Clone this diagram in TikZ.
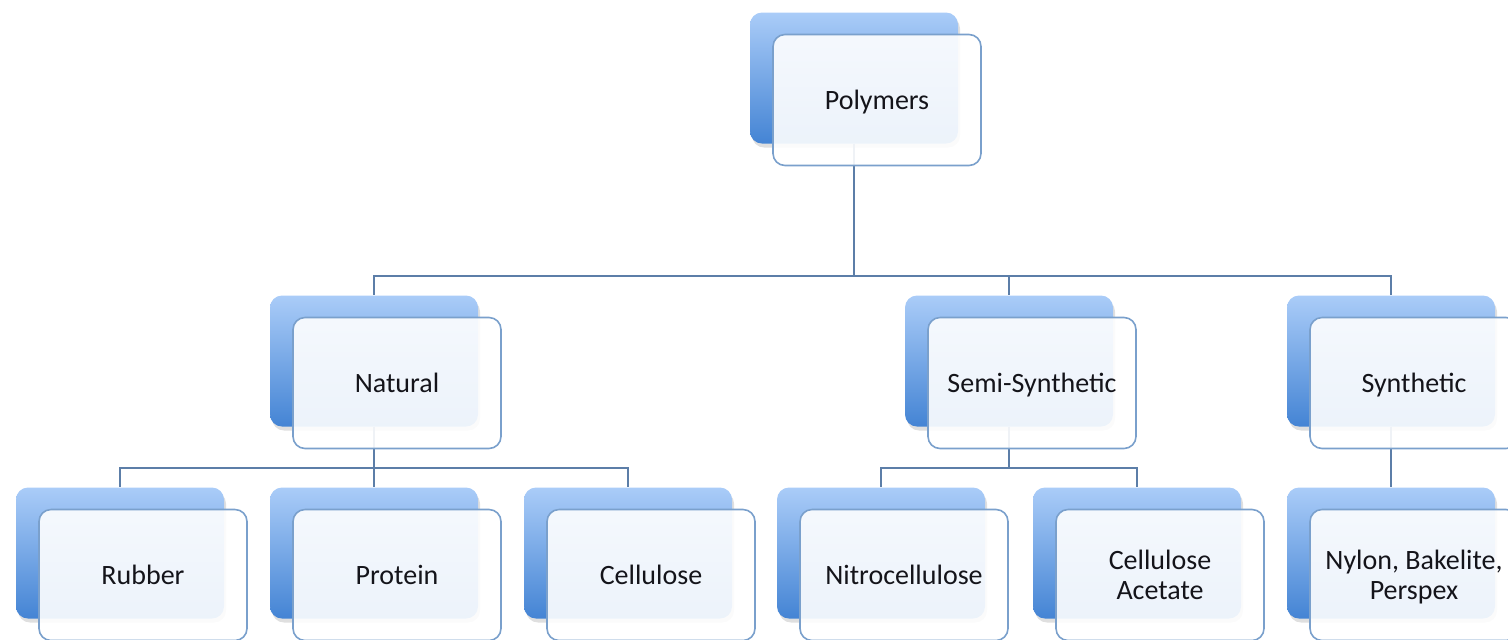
\documentclass[tikz,border=0pt]{standalone}
\usepackage{fontspec}
\setmainfont{Carlito}
\usetikzlibrary{shadows}
\definecolor{backtop}{RGB}{170,204,248}
\definecolor{backbot}{RGB}{68,132,212}
\definecolor{frontline}{RGB}{122,160,204}
\definecolor{linkblue}{RGB}{92,126,168}
\definecolor{labeltext}{RGB}{20,20,26}
\begin{document}
\begin{tikzpicture}[x=0.5pt, y=-0.5pt,
        back/.style={rounded corners=6pt, minimum width=104pt, minimum height=65.5pt,
            top color=backtop, bottom color=backbot, inner sep=0pt,
            drop shadow={shadow xshift=1pt, shadow yshift=-2pt, opacity=0.25}},
        front/.style={rounded corners=6pt, minimum width=104pt, minimum height=65.5pt,
            draw=frontline, line width=0.8pt, fill=white, fill opacity=0.9, text opacity=1,
            text=labeltext, align=center, inner sep=2pt, text depth=0pt,
            font=\fontsize{14}{15}\selectfont},
        link/.style={draw=linkblue, line width=1pt}
]
    \useasboundingbox (0,0) rectangle (1508,639);
    \node[back] (polyB) at (854,78) {};
    \node[back] (natB) at (374,361) {};
    \node[back] (semB) at (1009,361) {};
    \node[back] (synB) at (1391,361) {};
    \node[back] (rubB) at (120,553) {};
    \node[back] (proB) at (374,553) {};
    \node[back] (celB) at (628,553) {};
    \node[back] (nitB) at (881,553) {};
    \node[back] (acB) at (1137,553) {};
    \node[back] (nylB) at (1391,553) {};
    \coordinate (busA) at (0,276);
    \coordinate (busB) at (0,468);

    \draw[link] (polyB.south) -- (polyB |- busA) -| (natB.north);
    \draw[link] (polyB.south) -- (polyB |- busA) -| (semB.north);
    \draw[link] (polyB.south) -- (polyB |- busA) -| (synB.north);
    \draw[link] (natB.south) -- (natB |- busB) -| (rubB.north);
    \draw[link] (natB.south) -- (natB |- busB) -| (proB.north);
    \draw[link] (natB.south) -- (natB |- busB) -| (celB.north);
    \draw[link] (semB.south) -- (semB |- busB) -| (nitB.north);
    \draw[link] (semB.south) -- (semB |- busB) -| (acB.north);
    \draw[link] (synB.south) -- (nylB.north);

    \node[front] (poly) at ([shift={(23,22)}]polyB) {Polymers};
    \node[front] (nat) at ([shift={(23,22)}]natB) {Natural};
    \node[front] (sem) at ([shift={(23,22)}]semB) {Semi-Synthetic};
    \node[front] (syn) at ([shift={(23,22)}]synB) {Synthetic};
    \node[front] (rub) at ([shift={(23,22)}]rubB) {Rubber};
    \node[front] (pro) at ([shift={(23,22)}]proB) {Protein};
    \node[front] (cel) at ([shift={(23,22)}]celB) {Cellulose};
    \node[front] (nit) at ([shift={(23,22)}]nitB) {Nitrocellulose};
    \node[front] (ac) at ([shift={(23,22)}]acB) {Cellulose\\Acetate};
    \node[front] (nyl) at ([shift={(23,22)}]nylB) {Nylon, Bakelite,\\Perspex};
\end{tikzpicture}
\end{document}
